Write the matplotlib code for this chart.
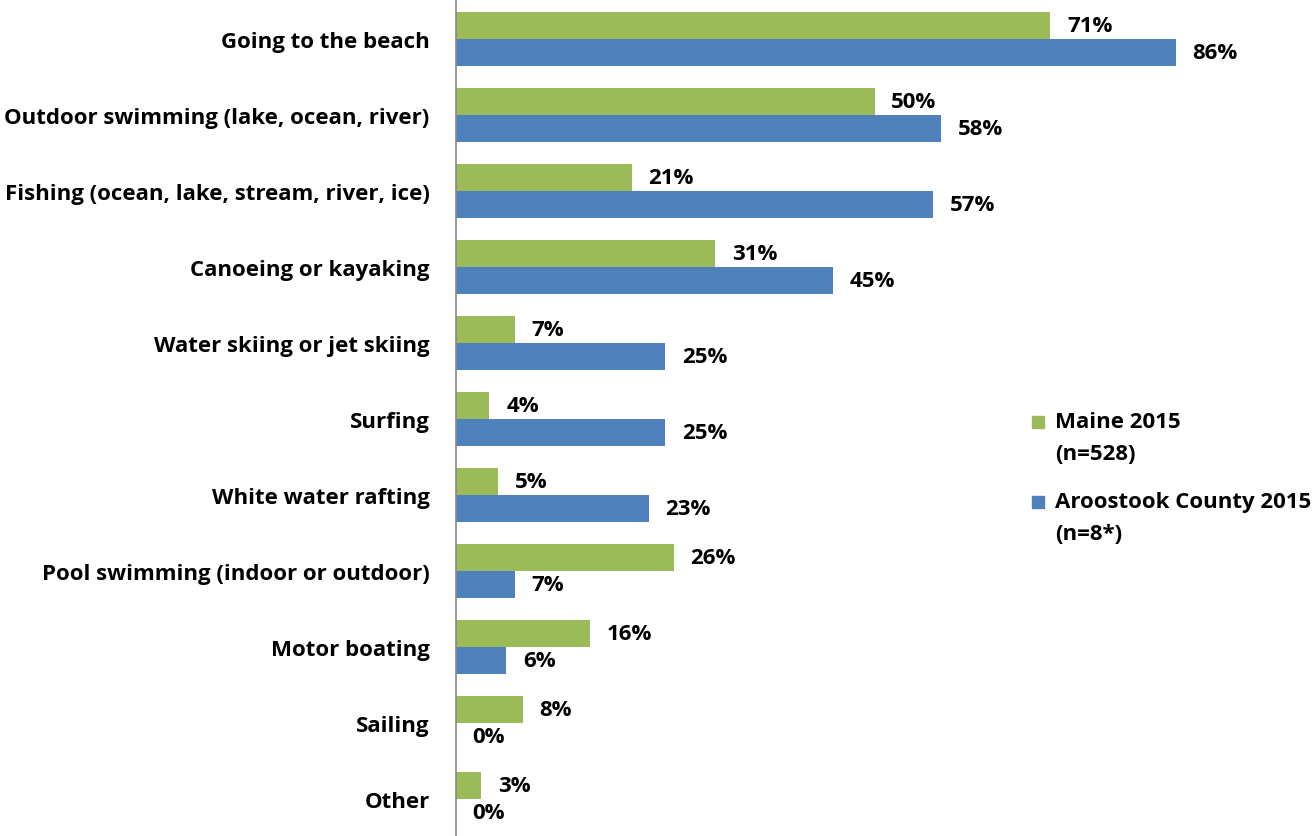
import matplotlib.pyplot as plt
from matplotlib.patches import Rectangle
import numpy as np

categories = ["Going to the beach", "Outdoor swimming (lake, ocean, river)",
              "Fishing (ocean, lake, stream, river, ice)", "Canoeing or kayaking",
              "Water skiing or jet skiing", "Surfing", "White water rafting",
              "Pool swimming (indoor or outdoor)", "Motor boating", "Sailing", "Other"]
maine = [71, 50, 21, 31, 7, 4, 5, 26, 16, 8, 3]
aroostook = [86, 58, 57, 45, 25, 25, 23, 7, 6, 0, 0]
series_names = [("Maine 2015", "(n=528)"), ("Aroostook County 2015", "(n=8*)")]

green = "#9BBB59"
blue = "#4F81BD"
plt.rcParams['font.family'] = ['Open Sans', 'DejaVu Sans']
fs = 16

W, H = 1314, 837
fig = plt.figure(figsize=(W / 100, H / 100), dpi=100)
ax = fig.add_axes([456 / W, 0, 837 / W, 1])

y = np.arange(len(categories))
h = 0.355
ax.barh(y - h / 2, maine, height=h, color=green)
ax.barh(y + h / 2, aroostook, height=h, color=blue)

for yi, m, a in zip(y, maine, aroostook):
    ax.text(m + 2, yi - h / 2, f"{m}%", va="center", ha="left", fontsize=fs, fontweight="bold")
    ax.text(a + 2, yi + h / 2, f"{a}%", va="center", ha="left", fontsize=fs, fontweight="bold")

ax.set_xlim(0, 100)
ax.set_ylim(10.49, -0.526)
ax.set_yticks(y)
ax.set_yticklabels(categories, fontsize=fs, fontweight="bold")
ax.tick_params(axis="y", length=0, pad=19)
ax.set_xticks([])
for s in ["top", "right", "bottom"]:
    ax.spines[s].set_visible(False)
ax.spines["left"].set_color("#888888")
ax.spines["left"].set_linewidth(1.2)

# legend drawn by hand: square beside first line, second line below
for (name, n), col, ypx in zip(series_names, [green, blue], [423, 503]):
    fig.add_artist(Rectangle(((1032) / W, 1 - (ypx + 6) / H), 12 / W, 12 / H,
                             transform=fig.transFigure, color=col))
    fig.text(1055 / W, 1 - ypx / H, name, va="center", ha="left", fontsize=fs, fontweight="bold")
    fig.text(1055 / W, 1 - (ypx + 32) / H, n, va="center", ha="left", fontsize=fs, fontweight="bold")

fig.savefig("out.png", dpi=100)
